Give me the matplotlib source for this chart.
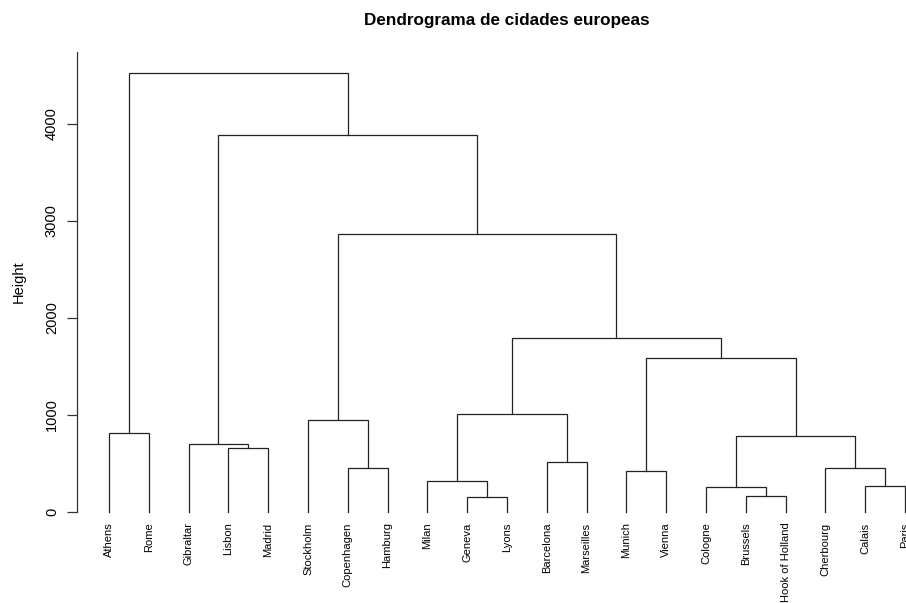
import matplotlib
matplotlib.use("Agg")
import matplotlib.pyplot as plt
import numpy as np

plt.rcParams['font.family'] = ['Liberation Sans', 'DejaVu Sans']

# Leaves in plotting order (left to right)
cities = ["Athens", "Rome", "Gibraltar", "Lisbon", "Madrid", "Stockholm",
          "Copenhagen", "Hamburg", "Milan", "Geneva", "Lyons", "Barcelona",
          "Marseilles", "Munich", "Vienna", "Cologne", "Brussels",
          "Hook of Holland", "Cherbourg", "Calais", "Paris"]

# Merge steps: ids 0..20 are leaves, each merge creates id 21, 22, ...
merge_left = [9, 16, 15, 19, 8, 13, 6, 18, 11, 3, 2, 23, 0, 5, 25, 26, 35, 34, 31, 33]
merge_right = [10, 17, 22, 20, 21, 14, 7, 24, 12, 4, 30, 28, 1, 27, 29, 32, 36, 37, 38, 39]
merge_height = [155, 170, 260, 270, 323, 425, 455, 455, 514, 663,
                698, 782, 811, 947, 1010, 1587, 1798, 2870, 3885, 4528]

n = len(cities)
node_x = {i: i + 1 for i in range(n)}
node_y = {i: 0 for i in range(n)}

fig = plt.figure(figsize=(9.06, 6.03), dpi=100)
ax = fig.add_axes([77 / 906, 91 / 603, 829 / 906, 460.3 / 603])

for k, (a, b, h) in enumerate(zip(merge_left, merge_right, merge_height)):
    xa, xb = node_x[a], node_x[b]
    ax.plot([xa, xa, xb, xb], [node_y[a], h, h, node_y[b]],
            color="#222222", linewidth=0.9, clip_on=False,
            solid_joinstyle="miter")
    node_x[n + k] = (xa + xb) / 2
    node_y[n + k] = h

ax.set_xlim(1 - 32 / 39.8, 1 + 797 / 39.8)
ax.set_ylim(0, 4745)

ax.set_xticks(np.arange(1, n + 1))
ax.set_xticklabels(cities, rotation=90, fontsize=8)
ax.tick_params(axis="x", length=0, pad=7.5)

ax.set_yticks([0, 1000, 2000, 3000, 4000])
ax.set_yticklabels(["0", "1000", "2000", "3000", "4000"], rotation=90,
                   va="center", fontsize=10.5)
ax.tick_params(axis="y", length=7, width=0.9, pad=6, color="#333333")
ax.set_ylabel("Height", fontsize=10.5, labelpad=14)

for side in ["top", "right", "bottom"]:
    ax.spines[side].set_visible(False)
ax.spines["left"].set_linewidth(0.9)
ax.spines["left"].set_color("#333333")

fig.text(507 / 906, 1 - 20 / 603, "Dendrograma de cidades europeas",
         ha="center", va="center", fontsize=12.3, fontweight="bold")

fig.savefig("out.png", dpi=100)
